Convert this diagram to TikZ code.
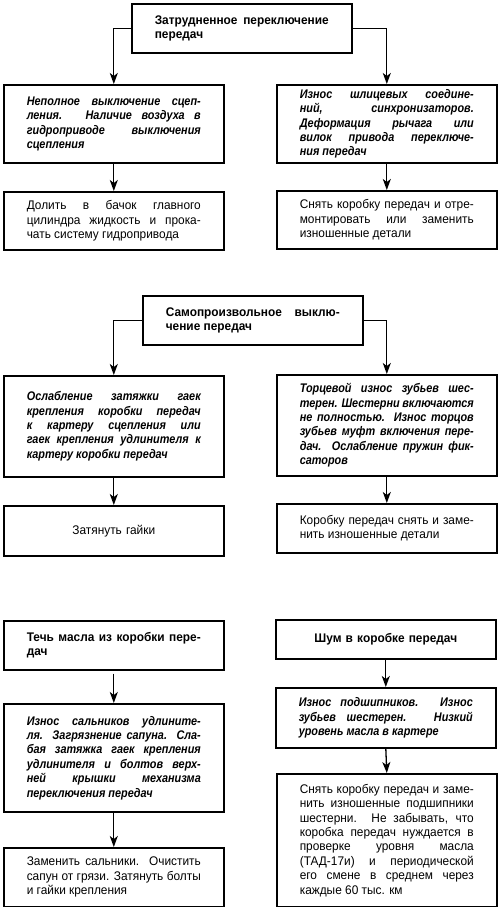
\documentclass[tikz,border=0pt]{standalone}
\usepackage{fontspec}
\setmainfont{Liberation Sans}
\newfontfamily\fReg{Liberation Sans}[FakeStretch=0.95]
\newfontfamily\fBold{Liberation Sans}[FakeStretch=0.95]
\newfontfamily\fBoldIt{Liberation Sans}[FakeStretch=0.87]
\usetikzlibrary{arrows.meta}
\tolerance=10000
\hbadness=10000
\begin{document}
\begin{tikzpicture}[x=1pt,y=-1pt,
  box/.style={draw, line width=1.6pt, anchor=north west, inner xsep=23pt, inner ysep=0pt,
    text width=174pt, align=justify, font=\fontsize{12.5}{14.4}\selectfont\fReg},
  bi/.style={box, font=\fontsize{12.5}{14.4}\selectfont\fBoldIt\bfseries\itshape},
  bt/.style={box, font=\fontsize{12.5}{14.4}\selectfont\fBold\bfseries},
  arr/.style={line width=1.3pt, -{Stealth[length=11pt,width=8pt,inset=3pt]}}]
\useasboundingbox (0,0) rectangle (500,907);
% ---------- block 1 ----------
\node[bt, minimum height=49pt] (T1) at (131,3) {Затрудненное переключение\linebreak передач};
\node[bi, minimum height=78pt] (A) at (3,84) {Неполное выключение сцеп-\linebreak ления. Наличие воздуха в\linebreak гидроприводе выключения\linebreak сцепления};
\node[bi, minimum height=78pt] (B) at (276,84) {Износ шлицевых соедине-\linebreak ний, синхронизаторов.\linebreak Деформация рычага или\linebreak вилок привода переключе-\linebreak ния передач};
\node[box, minimum height=58pt] (A2) at (3,191) {Долить в бачок главного\linebreak цилиндра жидкость и прока-\linebreak чать систему гидропривода};
\node[box, minimum height=58pt] (B2) at (276,190) {Снять коробку передач и отре-\linebreak монтировать или заменить\linebreak изношенные детали};
\draw[arr] (T1.west) -| (A.north);
\draw[arr] (T1.east) -| (B.north);
\draw[arr] (A.south) -- (A2.north);
\draw[arr] (B.south) -- (B2.north);
% ---------- block 2 ----------
\node[bt, minimum height=49pt] (T2) at (142,295) {Самопроизвольное выклю-\linebreak чение передач};
\node[bi, minimum height=101pt] (C) at (3,375) {Ослабление затяжки гаек\linebreak крепления коробки передач\linebreak к картеру сцепления или\linebreak гаек крепления удлинителя к\linebreak картеру коробки передач};
\node[bi, minimum height=101pt] (D) at (276,374) {Торцевой износ зубьев шес-\linebreak терен. Шестерни включаются\linebreak не полностью. Износ торцов\linebreak зубьев муфт включения пере-\linebreak дач. Ослабление пружин фик-\linebreak саторов};
\node[box, minimum height=50pt, align=center] (C2) at (3,505) {Затянуть гайки};
\node[box, minimum height=49pt] (D2) at (276,503) {Коробку передач снять и заме-\linebreak нить изношенные детали};
\draw[arr] (T2.west) -| (C.north);
\draw[arr] (T2.east) -| (D.north);
\draw[arr] (C.south) -- (C2.north);
\draw[arr] (D.south) -- (D2.north);
% ---------- block 3 ----------
\node[bt, minimum height=49pt] (E) at (3,620) {Течь масла из коробки пере-\linebreak дач};
\node[bt, minimum height=39pt, align=center] (F) at (275,619) {Шум в коробке передач};
\node[bi, minimum height=108pt] (E2) at (3,703) {Износ сальников удлините-\linebreak ля. Загрязнение сапуна. Сла-\linebreak бая затяжка гаек крепления\linebreak удлинителя и болтов верх-\linebreak ней крышки механизма\linebreak переключения передач};
\node[box, minimum height=59pt] (E3) at (3,847) {Заменить сальники. Очистить\linebreak сапун от грязи. Затянуть болты\linebreak и гайки крепления};
\node[bi, minimum height=60pt] (F2) at (275,687) {Износ подшипников. Износ\linebreak зубьев шестерен. Низкий\linebreak уровень масла в картере};
\node[box, minimum height=133pt] (F3) at (276,773) {Снять коробку передач и заме-\linebreak нить изношенные подшипники\linebreak шестерни. Не забывать, что\linebreak коробка передач нуждается в\linebreak проверке уровня масла\linebreak (ТАД-17и) и периодической\linebreak его смене в среднем через\linebreak каждые 60 тыс. км};
\draw[arr] (E.south) ++(0,3) -- (E2.north);
\draw[arr] (E2.south) -- (E3.north);
\draw[arr] (F.south) -- (F2.north);
\draw[arr] (F2.south) -- (F3.north);
\end{tikzpicture}
\end{document}
